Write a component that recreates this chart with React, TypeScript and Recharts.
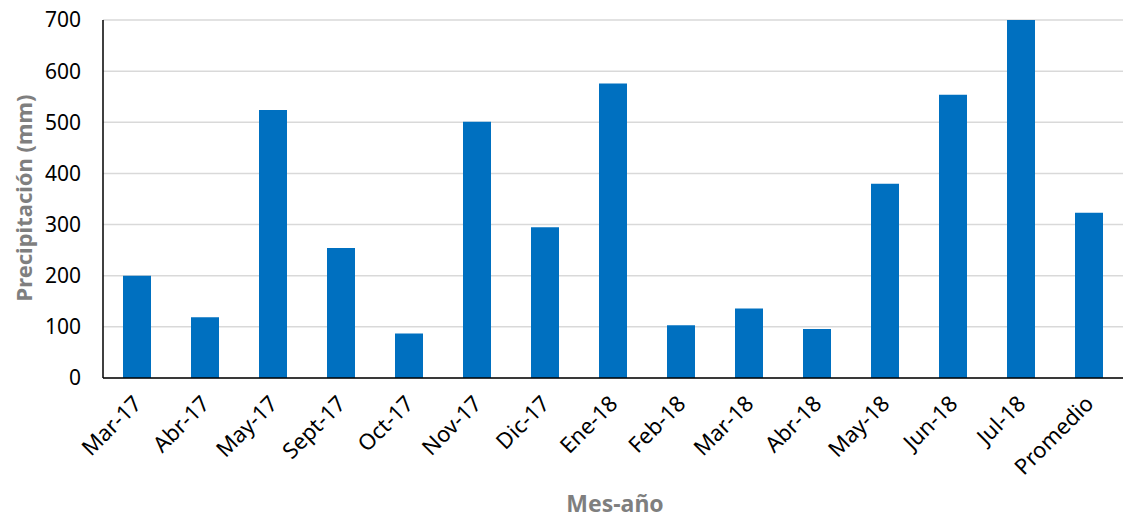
import React from 'react';
import { BarChart, Bar, XAxis, YAxis, CartesianGrid } from 'recharts';

const months = ['Mar-17', 'Abr-17', 'May-17', 'Sept-17', 'Oct-17', 'Nov-17', 'Dic-17', 'Ene-18', 'Feb-18', 'Mar-18', 'Abr-18', 'May-18', 'Jun-18', 'Jul-18', 'Promedio'];
const precipitation = [200, 119, 524, 254, 87, 501, 295, 576, 103, 136, 96, 380, 554, 700, 323];
const yTicks = [0, 100, 200, 300, 400, 500, 600, 700];

const data = months.map((m, i) => ({ mes: m, valor: precipitation[i] }));

const FONT = '"Noto Sans", "Open Sans", sans-serif';

const XTick = (props: any) => {
  const { x, y, payload } = props;
  const ax = x + 6;
  const ay = y + 19;
  return (
    <text
      x={ax}
      y={ay}
      transform={`rotate(-45 ${ax} ${ay})`}
      textAnchor="end"
      fontFamily={FONT}
      fontSize={22}
      fill="#000"
    >
      {payload.value}
    </text>
  );
};

const YLabel = (props: any) => {
  const vb = props.viewBox || {};
  const cx = 23;
  const cy = (vb.y ?? 20) + (vb.height ?? 358) / 2 - 1;
  return (
    <text
      x={cx}
      y={cy}
      transform={`rotate(-90 ${cx} ${cy})`}
      textAnchor="middle"
      dominantBaseline="central"
      fontFamily={FONT}
      fontWeight="bold"
      fontSize={22}
      fill="#7f7f7f"
    >
      Precipitación (mm)
    </text>
  );
};

const XLabel = (props: any) => {
  const vb = props.viewBox || {};
  const cx = (vb.x ?? 103) + (vb.width ?? 1020) / 2 + 2;
  const cy = 512;
  return (
    <text
      x={cx}
      y={cy}
      textAnchor="middle"
      fontFamily={FONT}
      fontWeight="bold"
      fontSize={23}
      fill="#7f7f7f"
    >
      Mes-año
    </text>
  );
};

export default function App() {
  return (
    <div style={{ position: 'absolute', left: 0, top: 0, width: 1123, height: 519, background: '#fff' }}>
      <BarChart
        width={1123}
        height={519}
        data={data}
        margin={{ top: 20, right: 0, bottom: 0, left: 0 }}
        barCategoryGap="29%"
      >
        <CartesianGrid horizontal vertical={false} stroke="#d9d9d9" strokeWidth={1.5} />
        <XAxis
          dataKey="mes"
          height={141}
          interval={0}
          tickLine={false}
          axisLine={{ stroke: '#000', strokeWidth: 1.5 }}
          tick={<XTick />}
          label={<XLabel />}
        />
        <YAxis
          width={103}
          domain={[0, 700]}
          ticks={yTicks}
          interval={0}
          tickLine={false}
          tickMargin={16}
          axisLine={{ stroke: '#000', strokeWidth: 1.5 }}
          tick={{ fontFamily: FONT, fontSize: 21, fill: '#000' }}
          label={<YLabel />}
        />
        <Bar dataKey="valor" fill="#0070C0" barSize={28} isAnimationActive={false} />
      </BarChart>
    </div>
  );
}
